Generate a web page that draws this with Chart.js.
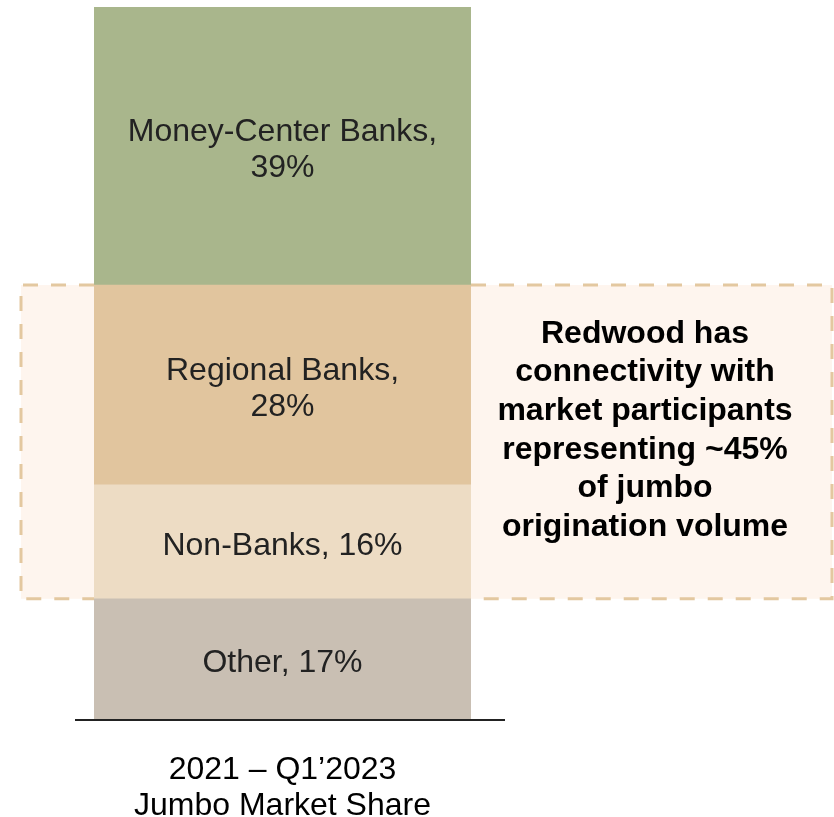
<!DOCTYPE html>
<html>
<head>
<meta charset="utf-8">
<script src="https://cdn.jsdelivr.net/npm/chart.js@4"></script>
<style>
  html, body { margin: 0; padding: 0; background: #fff; }
  canvas { display: block; }
</style>
</head>
<body>
<canvas id="shareChart" width="834" height="817"></canvas>
<script>
// Dữ liệu
var categories = [['2021 \u2013 Q1\u20192023', 'Jumbo Market Share']];
var segmentNames = ['Other', 'Non-Banks', 'Regional Banks', 'Money-Center Banks'];
var segmentValues = [17, 16, 28, 39];
var segmentLabels = [['Other, 17%'], ['Non-Banks, 16%'], ['Regional Banks,', '28%'], ['Money-Center Banks,', '39%']];
var segmentColors = ['#C9BFB3', '#EDDCC4', '#E1C59E', '#A9B68C'];
var calloutText = ['Redwood has', 'connectivity with', 'market participants', 'representing ~45%', 'of jumbo', 'origination volume'];

var FONT = "'Liberation Sans', Arial, sans-serif";

// Khung nét đứt phía sau cột (Regional + Non-Banks)
function boxEdges(chart) {
    var y = chart.scales.y;
    var low = segmentValues[0];
    var high = segmentValues[0] + segmentValues[1] + segmentValues[2];
    return { top: y.getPixelForValue(high), bottom: y.getPixelForValue(low), left: 21, right: 832 };
}

var calloutBox = {
    id: 'calloutBox',
    beforeDatasetsDraw: function (chart) {
        var c = chart.ctx, b = boxEdges(chart);
        c.save();
        c.fillStyle = '#FEF5EE';
        c.fillRect(b.left, b.top, b.right - b.left, b.bottom - b.top);
        c.restore();
    },
    afterDatasetsDraw: function (chart) {
        var c = chart.ctx, b = boxEdges(chart), area = chart.chartArea;
        c.save();
        // viền nét đứt bên ngoài cột
        c.strokeStyle = '#E3C8A0';
        c.lineWidth = 3;
        c.setLineDash([15, 13]);
        c.beginPath();
        c.moveTo(area.left, b.top); c.lineTo(b.left, b.top); c.lineTo(b.left, b.bottom); c.lineTo(area.left, b.bottom);
        c.moveTo(area.right, b.top); c.lineTo(b.right, b.top); c.lineTo(b.right, b.bottom); c.lineTo(area.right, b.bottom);
        c.stroke();
        c.setLineDash([]);
        // chữ in đậm bên phải
        c.fillStyle = '#000';
        c.font = 'bold 32px ' + FONT;
        c.textAlign = 'center';
        c.textBaseline = 'middle';
        calloutText.forEach(function (t, i) { c.fillText(t, 645, 334 + i * 38.6); });
        // nhãn trong từng đoạn
        c.font = '32px ' + FONT;
        c.fillStyle = '#222';
        chart.data.datasets.forEach(function (ds, i) {
            var bar = chart.getDatasetMeta(i).data[0];
            var mid = (bar.y + bar.base) / 2 + 4;
            var lines = segmentLabels[i];
            lines.forEach(function (t, j) {
                c.fillText(t, bar.x, mid + (j - (lines.length - 1) / 2) * 36);
            });
        });
        // đường trục ngang
        var base = chart.scales.y.getPixelForValue(0);
        c.strokeStyle = '#222';
        c.lineWidth = 2;
        c.beginPath();
        c.moveTo(75, base); c.lineTo(505, base);
        c.stroke();
        c.restore();
    }
};

function drawChart() {
    var ctx = document.getElementById('shareChart').getContext('2d');
    new Chart(ctx, {
        type: 'bar',
        data: {
            labels: categories,
            datasets: segmentNames.map(function (name, i) {
                return {
                    label: name,
                    data: [segmentValues[i]],
                    backgroundColor: segmentColors[i],
                    borderWidth: 0,
                    barPercentage: 1,
                    categoryPercentage: 1
                };
            })
        },
        options: {
            responsive: false,
            animation: false,
            devicePixelRatio: 1,
            layout: { padding: { left: 94, right: 363, top: 7, bottom: 0 } },
            plugins: {
                legend: { display: false },
                tooltip: { enabled: false }
            },
            scales: {
                x: {
                    stacked: true,
                    grid: { display: false, drawTicks: false },
                    border: { display: false },
                    afterFit: function (scale) { scale.height = 97; },
                    ticks: {
                        color: '#000',
                        padding: 33,
                        font: { family: FONT, size: 32, lineHeight: 1.1 }
                    }
                },
                y: {
                    stacked: true,
                    display: false,
                    min: 0,
                    max: 100
                }
            }
        },
        plugins: [calloutBox]
    });
}

Promise.all([
    document.fonts.load("32px 'Liberation Sans'"),
    document.fonts.load("bold 32px 'Liberation Sans'")
]).then(drawChart, drawChart);
</script>
</body>
</html>
